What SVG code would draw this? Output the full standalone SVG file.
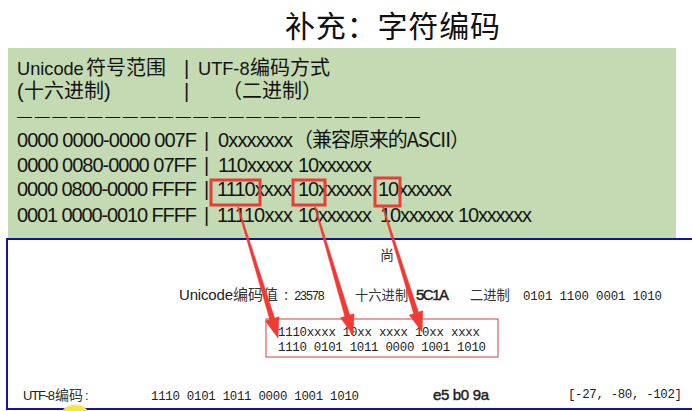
<svg xmlns="http://www.w3.org/2000/svg" width="692" height="411" viewBox="0 0 692 411">
<style>
.bg{fill:#ffffff}
.title{font-family:"Noto Sans CJK SC","Liberation Sans",sans-serif;font-size:30px;fill:#111}
.t{font-family:"Liberation Sans","Noto Sans CJK SC",sans-serif;font-size:20px;fill:#141414}
.t18{font-family:"Liberation Sans",sans-serif;font-size:18.2px;fill:#141414}
.cj{font-family:"Noto Sans CJK SC",sans-serif;font-size:20px;fill:#141414}
.dash{font-family:"Liberation Sans",sans-serif;font-size:15px;fill:#141414}
.panel{fill:#c4dab2}
.hl{fill:none;stroke:#ea3d38;stroke-width:3}
.frame{fill:none;stroke:#14149c;stroke-width:2}
.s{font-family:"Liberation Sans","Noto Sans CJK SC",sans-serif;font-size:15px;fill:#222}
.s13{font-family:"Liberation Sans",sans-serif;font-size:13px;fill:#222}
.sb{font-family:"Liberation Sans",sans-serif;font-size:15px;fill:#222;stroke:#222;stroke-width:0.45}
.sc{font-family:"Noto Sans CJK SC",sans-serif;font-size:14px;fill:#333}
.sc13{font-family:"Noto Sans CJK SC",sans-serif;font-size:13.3px;fill:#333}
.sc15{font-family:"Noto Sans CJK SC",sans-serif;font-size:15px;fill:#333}
.m{font-family:"Liberation Mono","DejaVu Sans Mono","Noto Sans CJK SC",monospace;font-size:12.4px;fill:#222}
.tbox{fill:none;stroke:#d9605c;stroke-width:1.2}
.arrow{fill:#f03a34;stroke:#f03a34;stroke-width:0.6;stroke-linejoin:round}
</style>
<rect class="bg" x="0" y="0" width="692" height="411"/>

<g id="title">
<text class="title" x="285" y="37" textLength="215">补充：字符编码</text>
</g>

<g id="utf8-table">
<rect class="panel" x="8" y="48" width="668" height="190"/>
<text class="t18" x="17" y="75">Unicode</text>
<text class="cj" x="86" y="75">符号范围</text>
<text class="t" x="184" y="75">|</text>
<text class="t18" x="198" y="75">UTF-8</text>
<text class="cj" x="250" y="75">编码方式</text>
<text class="t" x="17" y="98">(</text>
<text class="cj" x="24" y="98">十六进制</text>
<text class="t" x="104" y="98">)</text>
<text class="t" x="184" y="98">|</text>
<text class="cj" x="222" y="98">（二进制）</text>
<text class="dash" x="17" y="121" textLength="403">———————————————————————</text>
<text class="t" x="17" y="147" textLength="180">0000 0000-0000 007F</text>
<text class="t" x="204" y="147">|</text>
<text class="t" x="218" y="147" textLength="75">0xxxxxxx</text>
<text class="cj" x="293" y="147" textLength="177">（兼容原来的ASCII）</text>
<text class="t" x="17" y="172" textLength="180">0000 0080-0000 07FF</text>
<text class="t" x="204" y="172">|</text>
<text class="t" x="218" y="172" textLength="75">110xxxxx</text>
<text class="t" x="298" y="172" textLength="74">10xxxxxx</text>
<text class="t" x="17" y="196" textLength="180">0000 0800-0000 FFFF</text>
<text class="t" x="204" y="196">|</text>
<text class="t" x="217" y="196" textLength="75">1110xxxx</text>
<text class="t" x="298" y="196" textLength="74">10xxxxxx</text>
<text class="t" x="378" y="196" textLength="74">10xxxxxx</text>
<text class="t" x="17" y="222" textLength="180">0001 0000-0010 FFFF</text>
<text class="t" x="204" y="222">|</text>
<text class="t" x="217" y="222" textLength="76">11110xxx</text>
<text class="t" x="298" y="222" textLength="74">10xxxxxx</text>
<text class="t" x="380" y="222" textLength="74">10xxxxxx</text>
<text class="t" x="458" y="222" textLength="74">10xxxxxx</text>
</g>

<g id="hl-1110"><rect class="hl" x="211" y="180" width="49" height="25"/></g>
<g id="hl-10-first"><rect class="hl" x="293" y="180" width="32" height="25"/></g>
<g id="hl-10-second"><rect class="hl" x="375" y="178" width="25" height="28"/></g>

<g id="example-panel">
<path class="frame" d="M692,239 H7 V409 H692"/>
<ellipse cx="75" cy="413" rx="13" ry="8" fill="#f5e445"/>
<text class="sc" x="380" y="260" fill="#111">尚</text>
<text class="s" x="179" y="300" textLength="54">Unicode</text>
<text class="sc15" x="233" y="300">编码值</text>
<text class="m" x="283" y="300" textLength="42">：23578</text>
<text class="sc13" x="355" y="300">十六进制</text>
<text class="sb" x="416" y="300" textLength="33">5C1A</text>
<text class="sc13" x="470" y="300">二进制</text>
<text class="m" x="523" y="300" textLength="139">0101 1100 0001 1010</text>
<text class="s13" x="23" y="400" textLength="32">UTF-8</text>
<text class="sc" x="55" y="400" fill="#111">编码</text>
<text class="s13" x="85" y="400">:</text>
<text class="m" x="151" y="400" textLength="208">1110 0101 1011 0000 1001 1010</text>
<text class="sb" x="433" y="400" textLength="56">e5 b0 9a</text>
<text class="m" x="568" y="398" textLength="114">[-27, -80, -102]</text>
</g>

<g id="template-box">
<rect class="tbox" x="266" y="319" width="232" height="38"/>
<text class="m" x="278" y="336" textLength="202">1110xxxx 10xx xxxx 10xx xxxx</text>
<text class="m" x="278" y="351" textLength="208">1110 0101 1011 0000 1001 1010</text>
</g>

<g id="connectors">
<polygon class="arrow" points="237.5,207.2 269.8,319.6 265.5,320.9 278,338 278.9,316.8 274.6,318.2 238.5,206.9"/>
<polygon class="arrow" points="314.5,207.1 344.9,316.5 340.6,317.8 353,335 354.0,313.8 349.7,315.1 315.5,206.9"/>
<polygon class="arrow" points="382.5,207.2 413.7,313.7 409.4,315.0 422,332 422.7,310.8 418.4,312.2 383.5,206.9"/>
</g>
</svg>
